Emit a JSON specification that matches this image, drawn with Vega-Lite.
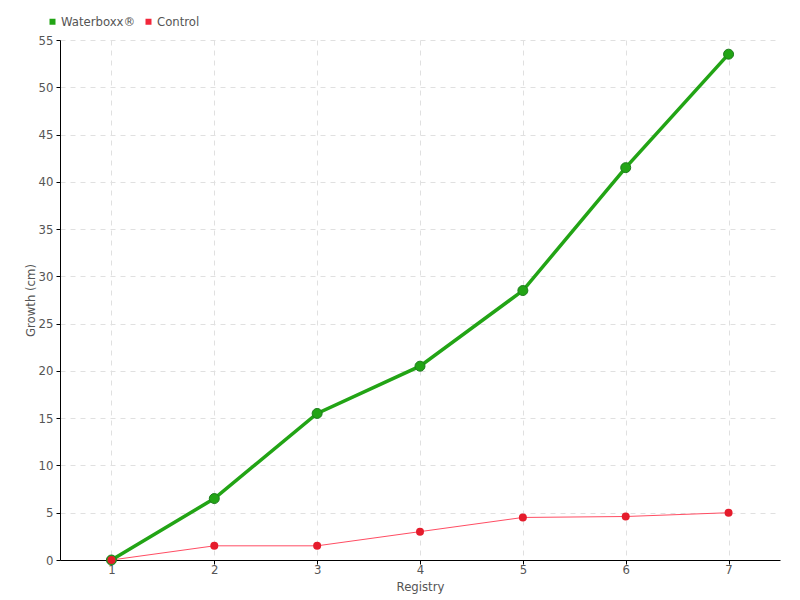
{
  "$schema": "https://vega.github.io/schema/vega-lite/v6.json",
  "width": 720,
  "height": 520,
  "autosize": "none",
  "padding": {"left": 60, "top": 40, "right": 20, "bottom": 40},
  "background": "white",
  "config": {
    "view": {"stroke": null},
    "font": "DejaVu Sans Condensed, Roboto, sans-serif",
    "axis": {"labelFont": "DejaVu Sans Condensed, Roboto, sans-serif", "titleFont": "DejaVu Sans Condensed, Roboto, sans-serif", "labelColor": "#555", "titleColor": "#555", "labelFontSize": 13, "titleFontSize": 13, "titleFontWeight": "normal", "gridColor": "#e0e0e0", "gridDash": [5, 5], "gridWidth": 1, "domainColor": "#000", "tickColor": "#000"}
  },
  "data": {
    "values": [
      {"registry": 1, "growth": 0, "series": "Waterboxx®"},
      {"registry": 2, "growth": 6.5, "series": "Waterboxx®"},
      {"registry": 3, "growth": 15.5, "series": "Waterboxx®"},
      {"registry": 4, "growth": 20.5, "series": "Waterboxx®"},
      {"registry": 5, "growth": 28.5, "series": "Waterboxx®"},
      {"registry": 6, "growth": 41.5, "series": "Waterboxx®"},
      {"registry": 7, "growth": 53.5, "series": "Waterboxx®"},
      {"registry": 1, "growth": 0, "series": "Control"},
      {"registry": 2, "growth": 1.5, "series": "Control"},
      {"registry": 3, "growth": 1.5, "series": "Control"},
      {"registry": 4, "growth": 3, "series": "Control"},
      {"registry": 5, "growth": 4.5, "series": "Control"},
      {"registry": 6, "growth": 4.6, "series": "Control"},
      {"registry": 7, "growth": 5, "series": "Control"}
    ]
  },
  "encoding": {
    "x": {"field": "registry", "type": "quantitative", "scale": {"domain": [0.5, 7.5], "nice": false, "zero": false}, "axis": {"values": [1, 2, 3, 4, 5, 6, 7], "title": "Registry", "titlePadding": 4, "tickSize": 4, "labelPadding": -1, "grid": true, "domain": true}},
    "y": {"field": "growth", "type": "quantitative", "scale": {"domain": [0, 55], "nice": false}, "axis": {"values": [0,5,10,15,20,25,30,35,40,45,50,55], "title": "Growth (cm)", "titlePadding": 1, "tickSize": 4, "labelPadding": 3, "grid": true}},
    "color": {"field": "series", "type": "nominal", "scale": {"domain": ["Waterboxx®", "Control"], "range": ["#22a415", "#f2263a"]},
      "legend": {"orient": "none", "legendX": -14, "legendY": -25, "direction": "horizontal", "title": null, "symbolType": "square", "symbolSize": 36, "symbolStrokeWidth": 0, "labelFontSize": 13, "labelColor": "#555", "labelFont": "DejaVu Sans Condensed, Roboto, sans-serif", "columnPadding": 6, "labelOffset": 2}}
  },
  "layer": [
    {"mark": {"type": "line", "strokeWidth": 1}, "transform": [{"filter": "datum.series == 'Control'"}], "encoding": {"color": {"value": "#ff4d63"}}},
    {"mark": {"type": "line", "strokeWidth": 3.5}, "transform": [{"filter": "datum.series == 'Waterboxx®'"}]},
    {"mark": {"type": "point", "filled": true, "size": 100, "opacity": 1, "stroke": "#1d7d1d", "strokeWidth": 1}, "transform": [{"filter": "datum.series == 'Waterboxx®'"}]},
    {"mark": {"type": "point", "filled": true, "size": 64, "opacity": 1}, "transform": [{"filter": "datum.series == 'Control'"}], "encoding": {"color": {"value": "#e51c2c"}}}
  ]
}
